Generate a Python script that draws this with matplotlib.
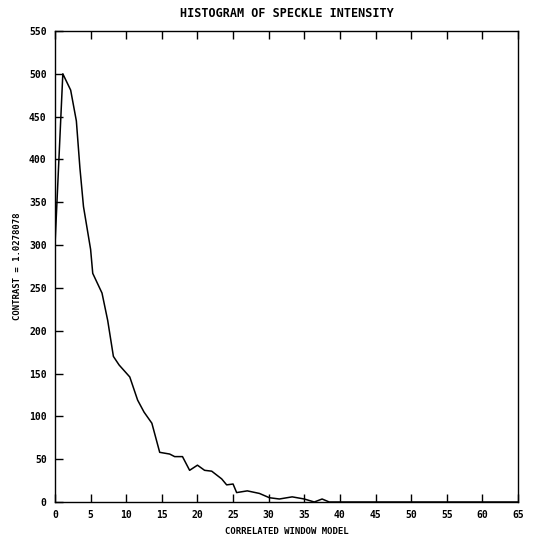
import numpy as np
import matplotlib
matplotlib.use("Agg")
import matplotlib.pyplot as plt

# values
window = [0, 1.1, 2.2, 3.0, 3.5, 4.0, 5.0, 5.3, 6.6, 7.4, 8.2, 9.0, 10.5, 11.6,
          12.5, 13.6, 14.7, 16.1, 16.8, 17.9, 18.9, 20.0, 21.0, 22.0, 23.4, 24.1,
          25.0, 25.5, 27.0, 28.7, 30.1, 31.5, 33.3, 35.0, 36.4, 37.5, 38.5, 39.5,
          45, 50, 55, 60, 65]
counts = [300, 500, 481, 445, 390, 345, 295, 267, 244, 212, 170, 160, 146, 119,
          105, 92, 58, 56, 53, 53, 37, 43, 37, 36, 27, 20,
          21, 11, 13, 10, 5, 3.5, 6, 3.5, 0, 3.5, 0, 0,
          0, 0, 0, 0, 0]

x_ticks = np.arange(0, 66, 5)
y_ticks = np.arange(0, 551, 50)

plt.rcParams['font.family'] = ['DejaVu Sans Mono']
plt.rcParams['font.weight'] = 'bold'

fig = plt.figure(figsize=(5.37, 5.45), dpi=100)
ax = fig.add_axes([0.1024, 0.0789, 0.8622, 0.8642])

ax.plot(window, counts, color='black', lw=1.1)

ax.set_xlim(0, 65)
ax.set_ylim(0, 550)
ax.set_xticks(x_ticks)
ax.set_yticks(y_ticks)
ax.tick_params(direction='in', length=6, width=1, labelsize=7, top=True,
               right=False, pad=6)
for s in ax.spines.values():
    s.set_linewidth(1)

ax.set_title("HISTOGRAM OF SPECKLE INTENSITY", fontsize=8.5, fontweight='bold', pad=10)
ax.set_xlabel("CORRELATED WINDOW MODEL", fontsize=6.5, fontweight='bold', labelpad=5)
ax.set_ylabel("CONTRAST = 1.0278078", fontsize=6.5, fontweight='bold', labelpad=5)

fig.savefig("out.png", dpi=100)
